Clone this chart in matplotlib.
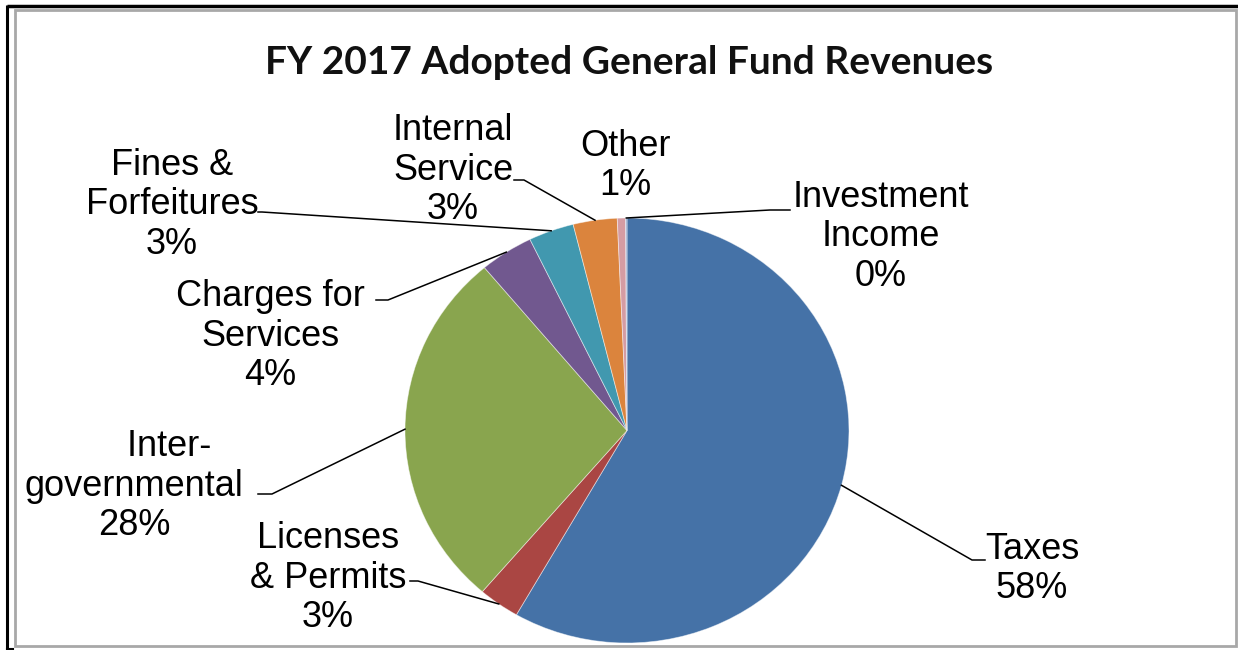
import numpy as np
import matplotlib
matplotlib.use("Agg")
import matplotlib.pyplot as plt

# Revenue shares (percent of total general fund)
categories = ["Taxes", "Licenses\n& Permits", "       Inter-\ngovernmental",
              "Charges for\nServices", "Fines &\nForfeitures",
              "Internal\nService", "Other", "Investment\nIncome"]
shares = [58.3, 3.0, 27.6, 3.9, 3.3, 3.2, 0.6, 0.1]
colors = ["#4572A7", "#AA4643", "#89A54E", "#71588F", "#4198AF",
          "#DB843D", "#D59CA3", "#93A9CF"]
title = "FY 2017 Adopted General Fund Revenues"

W, H = 1238, 650
fig = plt.figure(figsize=(W / 100, H / 100), dpi=100)
fig.patch.set_facecolor("white")

# pie geometry in pixel units (slightly elliptical)
cx, cy, rx, ry = 627, 430.5, 222, 212.5
ax_pie = fig.add_axes([(cx - rx) / W, (H - cy - ry) / H, 2 * rx / W, 2 * ry / H])
wedges, _ = ax_pie.pie(shares, colors=colors, startangle=90, counterclock=False,
                       radius=1, center=(0, 0),
                       wedgeprops=dict(linewidth=0.6, edgecolor=(1, 1, 1, 0.5),
                                       clip_on=False))
ax_pie.set_xlim(-1, 1)
ax_pie.set_ylim(-1, 1)
ax_pie.set_aspect("auto")
ax_pie.axis("off")

# overlay in image pixel coordinates for text, leaders and frame
ov = fig.add_axes([0, 0, 1, 1], zorder=5)
ov.set_xlim(0, W)
ov.set_ylim(H, 0)
ov.axis("off")
ov.patch.set_alpha(0)

# frame
ov.plot([7, W], [5.5, 5.5], color="black", lw=2.5, solid_capstyle="butt")
ov.plot([7, 7], [4.5, 649], color="black", lw=2.2, solid_capstyle="butt")
ov.plot([7, 13], [648.5, 648.5], color="black", lw=1.5)
ov.add_patch(plt.Rectangle((15, 9.5), 1221, 636.5, fill=False,
                           edgecolor="#A8A8A8", lw=2))

ov.text(629, 62, title, ha="center", va="center", fontsize=28,
        fontweight="bold", family="Lato", color="#111111")

# label centres and leader stubs (start near text, elbow)
label_pos = [(1032, 569), (328, 578), (134, 486), (270, 336),
             (172, 205), (453, 170), (625, 166), (881, 237)]
stubs = [((985, 560), (972, 560)),
         ((410, 581), (418, 581)),
         ((258, 494), (272, 494)),
         ((376, 300), (388, 300)),
         ((258, 212), (262, 212)),
         ((514, 180), (524, 180)),
         None,
         ((790, 210), (770, 210))]

total = sum(shares)
for w, name, val, pos, stub in zip(wedges, categories, shares, label_pos, stubs):
    pct = round(100 * val / total)
    ov.text(pos[0], pos[1], f"{name}\n{pct:.0f}%", ha="center", va="center",
            fontsize=26, family="Liberation Sans", linespacing=1.16,
            color="black")
    if stub is not None:
        mid = np.deg2rad((w.theta1 + w.theta2) / 2)
        ex, ey = cx + rx * np.cos(mid), cy - ry * np.sin(mid)
        ov.plot([stub[0][0], stub[1][0], ex], [stub[0][1], stub[1][1], ey],
                color="black", lw=1.1)

fig.savefig("out.png", dpi=100, facecolor="white")
